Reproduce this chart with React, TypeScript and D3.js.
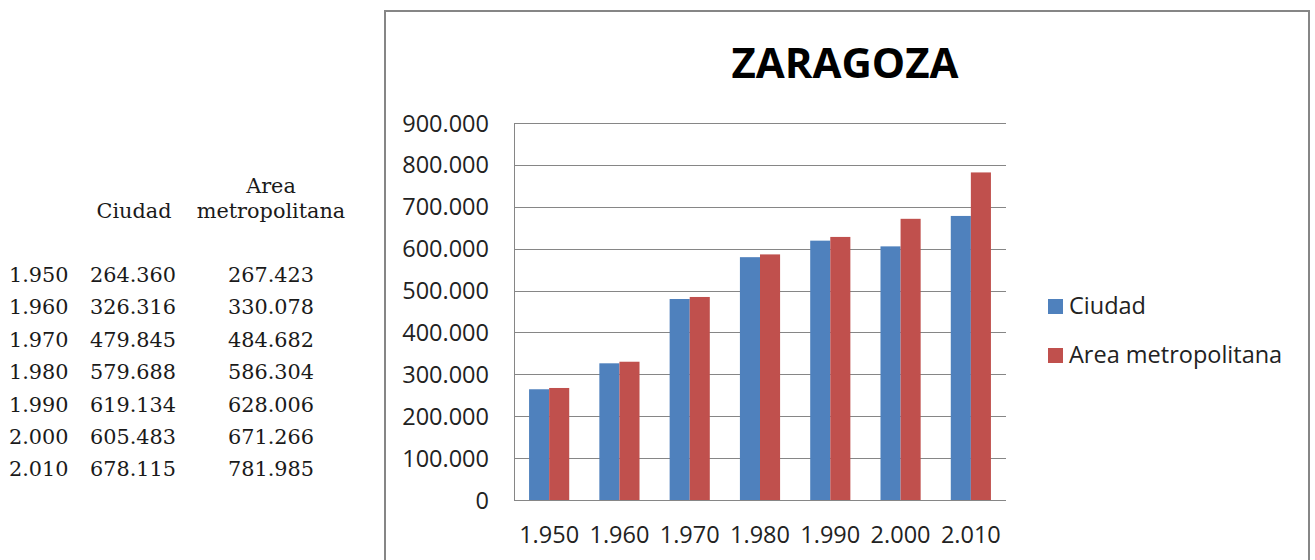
import React from "react";
import * as d3 from "d3";

const years = ["1.950", "1.960", "1.970", "1.980", "1.990", "2.000", "2.010"];
const ciudad = [264360, 326316, 479845, 579688, 619134, 605483, 678115];
const area = [267423, 330078, 484682, 586304, 628006, 671266, 781985];
const seriesNames = ["Ciudad", "Area metropolitana"];
const yTicks = [0, 100000, 200000, 300000, 400000, 500000, 600000, 700000, 800000, 900000];
const title = "ZARAGOZA";

const colors = ["#4F81BD", "#C0504D"];
const fmt = (v: number) => {
  if (v === 0) return "0";
  return d3.format(",.0f")(v).replace(/,/g, ".");
};

export default function App() {
  const W = 1315, H = 560;
  const plot = { left: 514, right: 1006, top: 123, bottom: 500 };
  // Excel gap width 150%: band = 2 bars + 1.5 bar gap
  const xb = d3.scaleBand<string>().domain(years).range([plot.left, plot.right]);
  const barW = xb.bandwidth() / 3.5;
  const y = d3.scaleLinear().domain([0, 900000]).range([plot.bottom, plot.top]);
  const series = [ciudad, area];
  const serif = "'DejaVu Serif', serif";
  const sans = "'Open Sans', sans-serif";
  const tableRows0 = 282;
  const rowStep = 32.4;
  return (
    <svg width={W} height={H} style={{ position: "absolute", left: 0, top: 0, background: "#fff" }}>
      {/* table */}
      <g fontFamily={serif} fontSize={20.8} fill="#1a1a1a">
        <text x={134} y={218} textAnchor="middle">Ciudad</text>
        <text x={271} y={193} textAnchor="middle">Area</text>
        <text x={271} y={218} textAnchor="middle">metropolitana</text>
        {years.map((yr, i) => (
          <g key={yr}>
            <text x={9} y={tableRows0 + i * rowStep}>{yr}</text>
            <text x={133} y={tableRows0 + i * rowStep} textAnchor="middle">{fmt(ciudad[i])}</text>
            <text x={271} y={tableRows0 + i * rowStep} textAnchor="middle">{fmt(area[i])}</text>
          </g>
        ))}
      </g>
      {/* chart border */}
      <rect x={385} y={11} width={924} height={560} fill="#fff" stroke="#868686" strokeWidth={2} />
      <text x={845} y={78} textAnchor="middle" fontFamily={sans} fontWeight="bold" fontSize={42} fill="#000">{title}</text>
      {/* gridlines */}
      {yTicks.map((t) => (
        <line key={t} x1={plot.left} x2={plot.right} y1={Math.round(y(t)) + 0.5} y2={Math.round(y(t)) + 0.5} stroke="#868686" strokeWidth={1} />
      ))}
      <line x1={plot.left + 0.5} x2={plot.left + 0.5} y1={plot.top} y2={plot.bottom} stroke="#868686" />
      {/* bars */}
      {years.map((yr, i) => {
        const c = xb(yr)! + xb.bandwidth() / 2;
        return series.map((s, k) => (
          <rect key={yr + k} x={c - barW + k * barW} y={y(s[i])} width={barW} height={y(0) - y(s[i])} fill={colors[k]} />
        ));
      })}
      {/* axis labels */}
      <g fontFamily={sans} fontSize={23.5} fill="#222">
        {yTicks.map((t) => (
          <text key={t} x={489} y={y(t) + 8.5} textAnchor="end">{fmt(t)}</text>
        ))}
        {years.map((yr) => (
          <text key={yr} x={xb(yr)! + xb.bandwidth() / 2} y={543} textAnchor="middle">{yr}</text>
        ))}
      </g>
      {/* legend */}
      <g fontFamily={sans} fontSize={23.5} fill="#222">
        {seriesNames.map((n, k) => (
          <g key={n}>
            <rect x={1048} y={299 + k * 49} width={15} height={15} fill={colors[k]} />
            <text x={1069} y={314 + k * 49}>{n}</text>
          </g>
        ))}
      </g>
    </svg>
  );
}
